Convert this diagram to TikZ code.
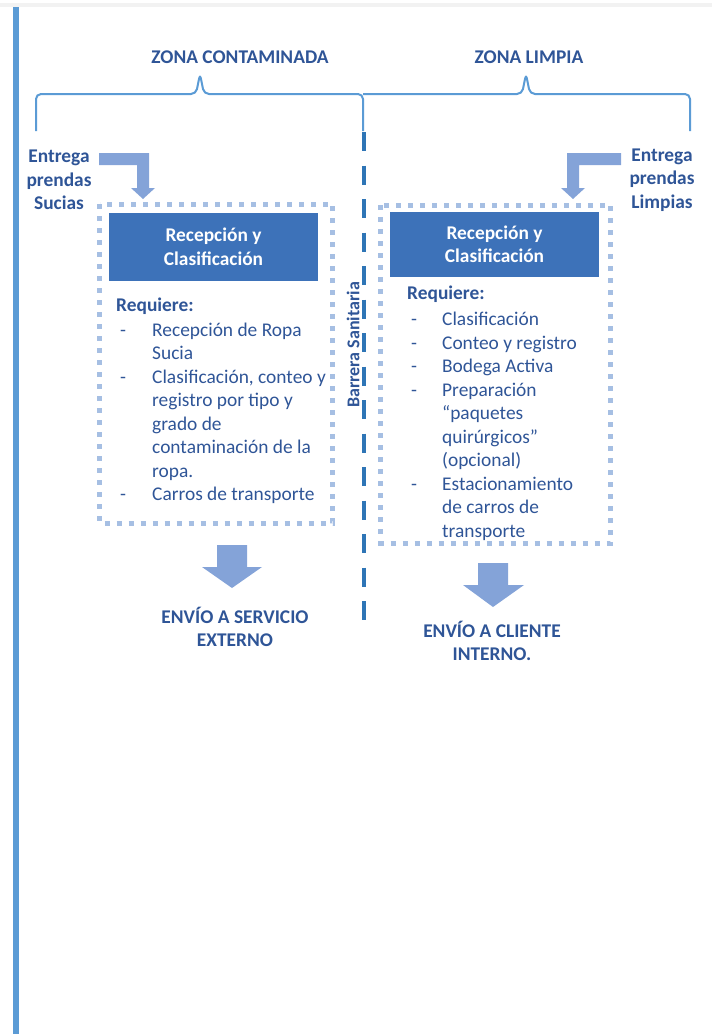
\documentclass[tikz,border=0pt]{standalone}
\usepackage{fontspec}
\setmainfont{Carlito}
\usepackage{tikz}
\definecolor{textblue}{RGB}{47,85,151}
\definecolor{boxblue}{RGB}{61,114,185}
\definecolor{dotblue}{RGB}{166,191,227}
\definecolor{arrowblue}{RGB}{132,163,216}
\definecolor{barblue}{RGB}{91,155,213}
\definecolor{barrierblue}{RGB}{46,117,182}
\definecolor{stripgray}{RGB}{242,242,242}

\begin{document}
\begin{tikzpicture}[x=1pt,y=-1pt,
  lbl/.style={text=textblue,font=\bfseries,align=center,inner sep=0pt},
  titlebox/.style={fill=boxblue,text=white,font=\bfseries,align=center,minimum width=209pt,inner sep=0pt},
  dotbox/.style={draw=dotblue,line width=5pt,dash pattern=on 5pt off 7pt},
  blockarrow/.style={fill=arrowblue}]
\useasboundingbox (0,0) rectangle (712,1034);
\fontsize{19.4}{23.5}\selectfont

\fill[color=stripgray] (0,3) rectangle (712,7);
\fill[color=barblue] (13,7) rectangle (19,1034);

% llaves de zonas
\draw[barblue,line width=2pt,rounded corners=5pt] (36,131) -- (36,94) -- (196,94) -- (200,74) -- (204,94) -- (363,94) -- (363,131);
\draw[barblue,line width=2pt,rounded corners=5pt] (363,94) -- (522,94) -- (526,74) -- (530,94) -- (690,94) -- (690,131);

\node[lbl] (zc) at (240,57) {ZONA CONTAMINADA};
\node[lbl] (zl) at (529,57) {ZONA LIMPIA};

% barrera
\draw[barrierblue,line width=4pt,dash pattern=on 19pt off 14.5pt] (364,132) -- (364,620);
\node[lbl,rotate=90,font=\bfseries\fontsize{18}{22}\selectfont] (barrera) at (353,345) {Barrera Sanitaria};

\node[lbl] (sucias) at (59,180) {Entrega\\prendas\\Sucias};
\node[lbl] (limpias) at (662,180) {Entrega\\prendas\\Limpias};

\fill[blockarrow] (99,153) -- (149,153) -- (149,188) -- (155,188) -- (143,199) -- (131,188) -- (137,188) -- (137,165) -- (99,165) -- cycle;
\fill[blockarrow] (621,153) -- (567,153) -- (567,188) -- (561,188) -- (573,199) -- (585,188) -- (579,188) -- (579,165) -- (621,165) -- cycle;

% zona contaminada
\draw[dotbox] (99.5,204) rectangle (332.5,523);
\node[titlebox,minimum height=68pt] (recL) at (213.5,247) {Recepción y\\Clasificación};
\node[anchor=north west,inner sep=0pt,text=textblue] (reqL) at (116,294.5) {%
\begin{tabular}{@{}p{36pt}@{}l@{}}
\multicolumn{2}{@{}l@{}}{\textbf{Requiere:}}\\[1.5pt]
\hspace{4pt}- & Recepción de Ropa\\
 & Sucia\\
\hspace{4pt}- & Clasificación, conteo y\\
 & registro por tipo y\\
 & grado de\\
 & contaminación de la\\
 & ropa.\\
\hspace{4pt}- & Carros de transporte
\end{tabular}};

% zona limpia
\draw[dotbox] (380.5,205) rectangle (610.5,543);
\node[titlebox,minimum height=65pt] (recR) at (494.5,244.5) {Recepción y\\Clasificación};
\node[anchor=north west,inner sep=0pt,text=textblue] (reqR) at (407,282.5) {%
\begin{tabular}{@{}p{35pt}@{}l@{}}
\multicolumn{2}{@{}l@{}}{\textbf{Requiere:}}\\[3pt]
\hspace{4pt}- & Clasificación\\
\hspace{4pt}- & Conteo y registro\\
\hspace{4pt}- & Bodega Activa\\
\hspace{4pt}- & Preparación\\
 & “paquetes\\
 & quirúrgicos”\\
 & (opcional)\\
\hspace{4pt}- & Estacionamiento\\
 & de carros de\\
 & transporte
\end{tabular}};

% envios
\fill[blockarrow] (217,545) -- (247,545) -- (247,567) -- (262,567) -- (232,588) -- (202,567) -- (217,567) -- cycle;
\fill[blockarrow] (478,563) -- (508,563) -- (508,585) -- (524,585) -- (493,607) -- (463,585) -- (478,585) -- cycle;

\node[lbl] (externo) at (235,627) {ENVÍO A SERVICIO\\EXTERNO};
\node[lbl] (interno) at (492,641) {ENVÍO A CLIENTE\\INTERNO.};

\end{tikzpicture}
\end{document}
